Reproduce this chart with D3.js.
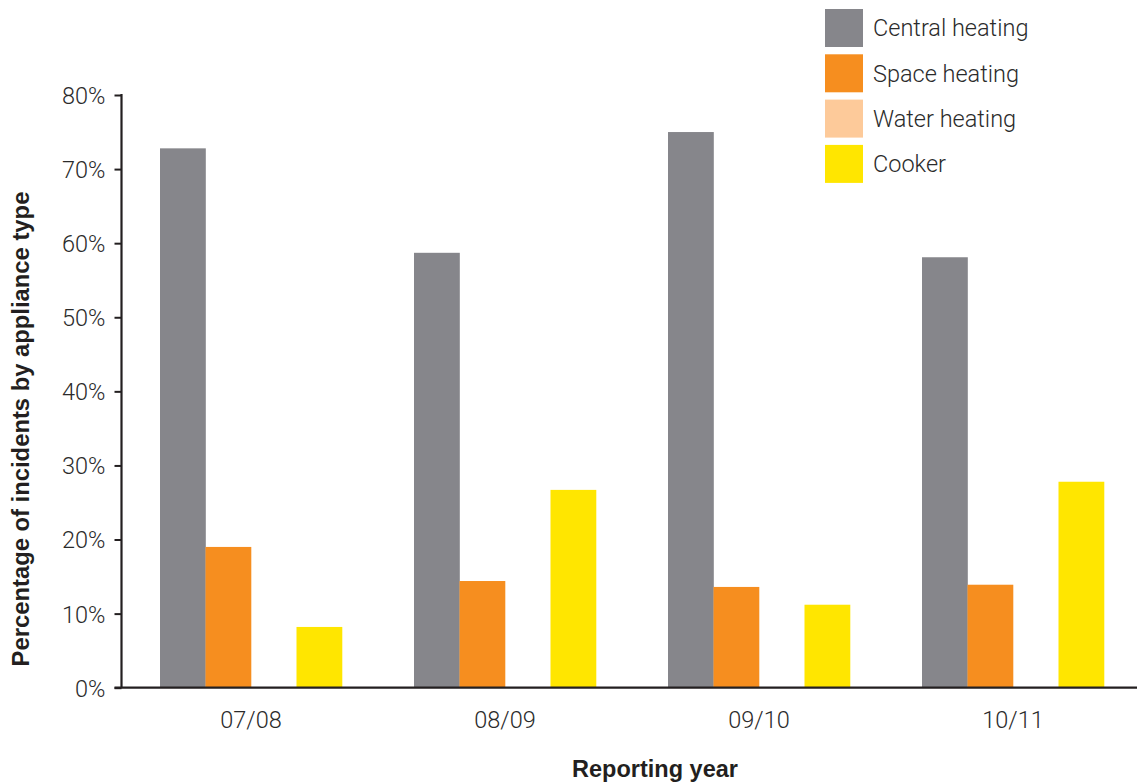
<!DOCTYPE html>
<html>
<head>
<meta charset="utf-8">
<script src="https://cdn.jsdelivr.net/npm/d3@7"></script>
<style>
  html, body { margin: 0; padding: 0; background: #fff; }
  svg { display: block; }
  .light { font-family: Roboto, "Liberation Sans", sans-serif; font-weight: 300; fill: #2b2b2b; }
  .bold { font-family: "Liberation Sans", Arial, sans-serif; font-weight: bold; fill: #231f20; }
</style>
</head>
<body>
<svg id="chart" width="1137" height="782"></svg>
<script>
// Reporting years and appliance types
const years = ["07/08", "08/09", "09/10", "10/11"];
const seriesNames = ["Central heating", "Space heating", "Water heating", "Cooker"];
const seriesColors = ["#86868b", "#f68e1f", "#fdca9a", "#ffe600"];

// Percentage of incidents per appliance type, one array per series
const centralHeating = [72.8, 58.7, 75.0, 58.1];
const spaceHeating   = [19.0, 14.4, 13.6, 13.9];
const waterHeating   = [0, 0, 0, 0];
const cooker         = [8.2, 26.7, 11.2, 27.8];

const yTicks = [0, 10, 20, 30, 40, 50, 60, 70, 80];

const seriesValues = [centralHeating, spaceHeating, waterHeating, cooker];
const rows = years.map((yr, i) => ({
  year: yr,
  values: seriesNames.map((s, j) => ({ key: s, color: seriesColors[j], value: seriesValues[j][i] }))
}));

const svg = d3.select("#chart");

const axisX = 121.5;
const x0 = d3.scaleBand().domain(years).range([124, 1140]).paddingInner(0.2835).paddingOuter(0.14175);
const x1 = d3.scaleBand().domain(seriesNames).range([0, x0.bandwidth()]);
const y = d3.scaleLinear().domain([0, 80]).range([687.7, 95]);

// Bars
const groups = svg.append("g").selectAll("g").data(rows).join("g")
  .attr("transform", d => `translate(${x0(d.year)},0)`);
groups.selectAll("rect").data(d => d.values).join("rect")
  .attr("x", d => x1(d.key))
  .attr("width", x1.bandwidth() + 0.3)
  .attr("y", d => y(d.value))
  .attr("height", d => y(0) - y(d.value))
  .attr("fill", d => d.color);

// Y axis
const yAxis = svg.append("g").attr("transform", `translate(${axisX},0)`)
  .call(d3.axisLeft(y).tickValues(yTicks).tickFormat(d => d + "%").tickSize(7).tickPadding(9).tickSizeOuter(0));
yAxis.select(".domain").attr("stroke", "#231f20").attr("stroke-width", 2.2).attr("d", `M0,${y(80) - 1}V${y(0)}`);
yAxis.selectAll(".tick line").attr("stroke", "#231f20").attr("stroke-width", 2);
yAxis.selectAll(".tick text").attr("class", "light").style("font-size", "23.5px").attr("dy", "0.36em");

// X axis baseline
const xAxis = svg.append("g").attr("transform", `translate(0,${y(0)})`)
  .call(d3.axisBottom(x0).tickSize(0).tickPadding(24));
xAxis.select(".domain").attr("stroke", "#231f20").attr("stroke-width", 2.2).attr("d", `M${axisX - 7},0H1137`);
xAxis.selectAll(".tick text").attr("class", "light").style("font-size", "23.5px");

// Axis titles
svg.append("text").attr("class", "bold")
  .attr("x", 655).attr("y", 777).attr("text-anchor", "middle")
  .style("font-size", "23.5px").text("Reporting year");
svg.append("text").attr("class", "bold")
  .attr("transform", "translate(29,429) rotate(-90)").attr("text-anchor", "middle")
  .style("font-size", "23.8px").text("Percentage of incidents by appliance type");

// Legend
const legend = svg.append("g").selectAll("g").data(seriesNames).join("g")
  .attr("transform", (d, i) => `translate(825,${9 + i * 45.3})`);
legend.append("rect").attr("width", 38).attr("height", 38)
  .attr("fill", (d, i) => seriesColors[i]);
legend.append("text").attr("class", "light")
  .attr("x", 48).attr("y", 19).attr("dy", "0.36em")
  .style("font-size", "23.5px").text(d => d);
</script>
</body>
</html>
